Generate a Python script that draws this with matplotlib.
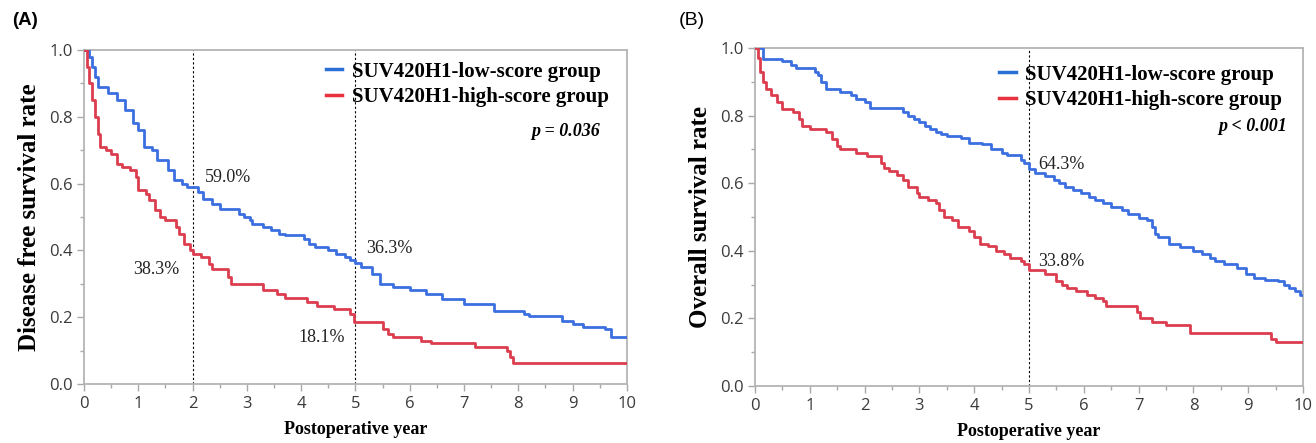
import matplotlib
matplotlib.use('Agg')
import matplotlib.pyplot as plt
from matplotlib.ticker import MultipleLocator
from matplotlib.lines import Line2D

# ---------------- data (step curves) ----------------
# (A) Disease free survival
dfs_low_t = [0.0, 0.1, 0.15, 0.2, 0.26, 0.45, 0.6, 0.75, 0.9, 1.0, 1.1, 1.25, 1.35, 1.55, 1.65, 1.8, 1.9,
             2.1, 2.2, 2.35, 2.5, 2.85, 2.95, 3.05, 3.1, 3.3, 3.45, 3.6, 3.7, 4.05, 4.15, 4.25,
             4.5, 4.65, 4.8, 4.9, 5.0, 5.1, 5.3, 5.45, 5.7, 6.0, 6.3, 6.6, 7.0, 7.55, 8.1, 8.2,
             8.8, 9.0, 9.2, 9.6, 9.7, 10.0]
dfs_low_s = [1.0, 0.98, 0.95, 0.92, 0.89, 0.87, 0.85, 0.82, 0.78, 0.76, 0.71, 0.70, 0.67, 0.64, 0.61, 0.60, 0.59,
             0.575, 0.555, 0.54, 0.525, 0.51, 0.50, 0.49, 0.48, 0.47, 0.46, 0.45, 0.445, 0.435, 0.42, 0.41,
             0.40, 0.39, 0.38, 0.37, 0.363, 0.35, 0.33, 0.30, 0.29, 0.28, 0.27, 0.253, 0.24, 0.22, 0.21, 0.205,
             0.19, 0.18, 0.17, 0.165, 0.142, 0.142]
dfs_high_t = [0.0, 0.05, 0.1, 0.15, 0.2, 0.25, 0.3, 0.4, 0.5, 0.6, 0.7, 0.85, 0.95, 1.0, 1.15, 1.2,
              1.3, 1.4, 1.5, 1.7, 1.75, 1.85, 1.95, 2.0, 2.15, 2.3, 2.35, 2.65, 2.7, 3.3, 3.55, 3.7,
              4.1, 4.3, 4.6, 4.9, 4.97, 5.5, 5.6, 5.7, 6.2, 6.4, 7.2, 7.8, 7.85, 7.9, 10.0]
dfs_high_s = [1.0, 0.95, 0.9, 0.85, 0.8, 0.75, 0.71, 0.70, 0.69, 0.66, 0.65, 0.64, 0.62, 0.58, 0.57, 0.55,
              0.52, 0.50, 0.49, 0.47, 0.45, 0.42, 0.40, 0.39, 0.38, 0.36, 0.345, 0.32, 0.30, 0.28, 0.27, 0.256,
              0.245, 0.235, 0.225, 0.21, 0.185, 0.165, 0.15, 0.142, 0.13, 0.122, 0.11, 0.10, 0.08, 0.062, 0.062]

# (B) Overall survival
os_low_t = [0.0, 0.15, 0.5, 0.65, 0.75, 1.1, 1.15, 1.2, 1.3, 1.55, 1.75, 1.85, 2.0, 2.1, 2.7, 2.8,
            2.9, 3.0, 3.1, 3.2, 3.3, 3.4, 3.5, 3.75, 3.9, 4.15, 4.3, 4.5, 4.6, 4.85, 4.9, 5.0, 5.1,
            5.3, 5.45, 5.55, 5.65, 5.8, 5.95, 6.1, 6.2, 6.35, 6.5, 6.7, 6.8, 7.0, 7.15, 7.25, 7.3,
            7.35, 7.55, 7.75, 8.0, 8.15, 8.3, 8.4, 8.55, 8.8, 8.95, 9.1, 9.3, 9.55, 9.65, 9.75, 9.85,
            9.95, 10.0]
os_low_s = [1.0, 0.968, 0.96, 0.95, 0.94, 0.93, 0.92, 0.90, 0.88, 0.87, 0.86, 0.85, 0.84, 0.823, 0.81, 0.80,
            0.79, 0.78, 0.77, 0.76, 0.75, 0.745, 0.74, 0.735, 0.72, 0.715, 0.70, 0.69, 0.683, 0.67, 0.66, 0.643, 0.63,
            0.62, 0.61, 0.60, 0.59, 0.58, 0.57, 0.56, 0.55, 0.54, 0.53, 0.52, 0.51, 0.497, 0.49, 0.47, 0.45,
            0.44, 0.42, 0.41, 0.40, 0.39, 0.38, 0.37, 0.36, 0.35, 0.33, 0.32, 0.315, 0.31, 0.30, 0.29, 0.28,
            0.27, 0.27]
os_high_t = [0.0, 0.05, 0.1, 0.15, 0.2, 0.3, 0.4, 0.5, 0.7, 0.8, 0.85, 1.0, 1.3, 1.4, 1.5, 1.55, 1.85,
             2.05, 2.3, 2.35, 2.45, 2.6, 2.7, 2.8, 2.95, 3.0, 3.15, 3.3, 3.35, 3.45, 3.6, 3.7, 3.9, 4.0,
             4.1, 4.25, 4.4, 4.55, 4.65, 4.85, 4.9, 5.0, 5.3, 5.5, 5.6, 5.7, 5.85, 6.05, 6.2, 6.35, 6.4,
             6.97, 7.02, 7.25, 7.5, 7.93, 9.42, 9.5, 10.0]
os_high_s = [1.0, 0.97, 0.93, 0.90, 0.88, 0.86, 0.84, 0.82, 0.81, 0.79, 0.77, 0.76, 0.75, 0.73, 0.71, 0.70, 0.69,
             0.68, 0.66, 0.645, 0.635, 0.625, 0.61, 0.59, 0.57, 0.56, 0.55, 0.54, 0.52, 0.50, 0.49, 0.47, 0.46, 0.44,
             0.42, 0.413, 0.40, 0.39, 0.38, 0.37, 0.36, 0.343, 0.33, 0.31, 0.30, 0.29, 0.28, 0.27, 0.26, 0.25, 0.238,
             0.22, 0.20, 0.19, 0.179, 0.156, 0.14, 0.129, 0.129]

legend_labels = ['SUV420H1-low-score group', 'SUV420H1-high-score group']
xlabel = 'Postoperative year'
ylabels = ['Disease free survival rate', 'Overall survival rate']
pvalues = ['p = 0.036', 'p < 0.001']

# landmark annotations: (x, y, text)
notes_a = [(2.22, 0.617, '59.0%'), (0.9, 0.342, '38.3%'), (5.2, 0.405, '36.3%'), (3.95, 0.14, '18.1%')]
notes_b = [(5.17, 0.654, '64.3%'), (5.17, 0.367, '33.8%')]
vlines_a = [2, 5]
vlines_b = [5]

blue = '#3b6fe0'
red = '#dc3d4e'
serif = 'Liberation Serif'
sans = 'Open Sans'

fig = plt.figure(figsize=(13.16, 4.43), dpi=100, facecolor='w')


def style_axes(ax):
    ax.set_xlim(0, 10)
    ax.set_ylim(0, 1.0)
    ax.xaxis.set_major_locator(MultipleLocator(1))
    ax.xaxis.set_minor_locator(MultipleLocator(0.5))
    ax.yaxis.set_minor_locator(MultipleLocator(0.1))
    ax.set_yticks([0, 0.2, 0.4, 0.6, 0.8, 1.0])
    ax.set_yticklabels(['0.0', '0.2', '0.4', '0.6', '0.8', '1.0'])
    for s in ax.spines.values():
        s.set_color('#b4b4b4')
        s.set_linewidth(1.3)
    ax.tick_params(which='major', direction='out', length=5, width=1, color='#a8a8a8',
                   labelsize=12, labelcolor='#3a3a3a', pad=3)
    ax.tick_params(axis='x', which='major', pad=4)
    ax.tick_params(which='minor', direction='out', length=3, width=1, color='#a8a8a8')
    for lab in ax.get_xticklabels() + ax.get_yticklabels():
        lab.set_family(sans)


def draw_panel(ax, low_t, low_s, high_t, high_s, vls, notes, ylab, ptxt, leg_anchor, p_xy):
    for v in vls:
        ax.axvline(v, color='k', lw=0.8, ls=(0, (2, 2)), zorder=1)
    ax.step(low_t, low_s, where='post', color=blue, lw=2.0, zorder=3)
    ax.step(high_t, high_s, where='post', color=red, lw=2.0, zorder=3)
    for x, y, t in notes:
        ax.text(x, y, t, family=serif, fontsize=13, color='#222222', ha='left', va='center')
    handles = [Line2D([], [], color='#2a6fd6', lw=2.5), Line2D([], [], color='#e8323e', lw=2.5)]
    ax.legend(handles, legend_labels, loc='upper left', bbox_to_anchor=leg_anchor, frameon=False,
              handlelength=0.8, handletextpad=0.45, labelspacing=0.25, borderaxespad=0,
              prop={'family': serif, 'weight': 'bold', 'size': 15})
    ax.text(p_xy[0], p_xy[1], ptxt, transform=ax.transAxes, family=serif, style='italic',
            weight='bold', fontsize=13, ha='right', va='center')
    ax.set_xlabel(xlabel, family=serif, weight='bold', fontsize=13, labelpad=6)
    ax.set_ylabel(ylab, family=serif, weight='bold', fontsize=18, labelpad=6)
    style_axes(ax)


ax_a = fig.add_axes([0.0638, 0.1332, 0.4125, 0.7539])
draw_panel(ax_a, dfs_low_t, dfs_low_s, dfs_high_t, dfs_high_s, vlines_a, notes_a,
           ylabels[0], pvalues[0], (0.43, 0.99), (0.95, 0.755))

ax_b = fig.add_axes([0.5737, 0.1287, 0.4165, 0.763])
draw_panel(ax_b, os_low_t, os_low_s, os_high_t, os_high_s, vlines_b, notes_b,
           ylabels[1], pvalues[1], (0.43, 0.975), (0.97, 0.767))

fig.text(0.009, 0.953, '(A)', family='Liberation Sans', weight='bold', fontsize=13.5, va='center')
fig.text(0.516, 0.953, '(B)', family='Liberation Sans', fontsize=14, va='center')

plt.savefig('out.png', dpi=100)
plt.close()
